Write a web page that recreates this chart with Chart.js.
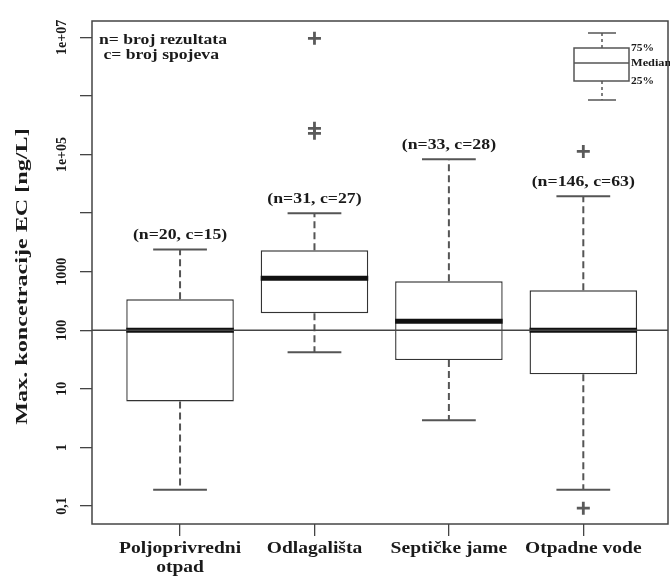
<!DOCTYPE html>
<html><head><meta charset="utf-8">
<script src="https://cdn.jsdelivr.net/npm/chart.js@4/dist/chart.umd.min.js"></script>
<style>html,body{margin:0;padding:0;background:#fff;overflow:hidden;}</style>
</head><body>
<canvas id="c" width="670" height="585"></canvas>
<script>
// ---- data ----
const categories = [['Poljoprivredni', 'otpad'], 'Odlagališta', 'Septičke jame', 'Otpadne vode'];
const positions = [1, 2, 3, 4];
const whiskerLow = [0.19, 42, 2.9, 0.19];
const q1 = [6.1, 195, 31, 17.7];
const median = [100, 770, 143, 100];
const q3 = [338, 2320, 686, 482];
const whiskerHigh = [2400, 9900, 83000, 19400];
const outlierX = [2, 2, 2, 4, 4];
const outlierY = [9.6e6, 2.8e5, 2.3e5, 1.13e5, 0.092];
const groupLabels = ['(n=20, c=15)', '(n=31, c=27)', '(n=33, c=28)', '(n=146, c=63)'];
const yTickValues = [0.1, 1, 10, 100, 1000, 1e4, 1e5, 1e6, 1e7];
const yTickLabels = ['0,1', '1', '10', '100', '1000', '', '1e+05', '', '1e+07'];
const refLine = 100;
const yTitle = 'Max. koncetracije EC [ng/L]';
const noteLines = ['n= broj rezultata', ' c= broj spojeva'];
const legendLabels = ['75%', 'Median', '25%'];

const SERIF = '"Liberation Serif", "DejaVu Serif", serif';
const TXT = '#1a1a1a';

function txt(ctx, s, x, y, size, sx, align, rot) {
  ctx.save();
  ctx.translate(x, y);
  if (rot) ctx.rotate(rot);
  ctx.scale(sx, 1);
  ctx.font = 'bold ' + size + 'px ' + SERIF;
  ctx.textAlign = align;
  ctx.fillText(s, 0, 0);
  ctx.restore();
}

const boxPlugin = {
  id: 'boxPlugin',
  beforeDatasetsDraw(chart) {
    const ctx = chart.ctx, xs = chart.scales.x, ys = chart.scales.y;
    const meta = chart.getDatasetMeta(0);
    ctx.save();
    ctx.strokeStyle = '#555';
    ctx.lineWidth = 2;
    ctx.setLineDash([7, 4]);
    positions.forEach((p, i) => {
      const x = xs.getPixelForValue(p);
      ctx.beginPath();
      ctx.moveTo(x, ys.getPixelForValue(q3[i]));
      ctx.lineTo(x, ys.getPixelForValue(whiskerHigh[i]));
      ctx.moveTo(x, ys.getPixelForValue(q1[i]));
      ctx.lineTo(x, ys.getPixelForValue(whiskerLow[i]));
      ctx.stroke();
    });
    ctx.setLineDash([]);
    positions.forEach((p, i) => {
      const x = xs.getPixelForValue(p);
      const w = meta.data[i].width / 4;
      [whiskerHigh[i], whiskerLow[i]].forEach(v => {
        const y = ys.getPixelForValue(v);
        ctx.beginPath();
        ctx.moveTo(x - w, y);
        ctx.lineTo(x + w, y);
        ctx.stroke();
      });
    });
    ctx.restore();
  },
  afterDatasetsDraw(chart) {
    const ctx = chart.ctx, xs = chart.scales.x, ys = chart.scales.y, ca = chart.chartArea;
    const meta = chart.getDatasetMeta(0);
    ctx.save();
    // medians
    ctx.strokeStyle = '#111';
    ctx.lineWidth = 5;
    positions.forEach((p, i) => {
      const el = meta.data[i];
      const y = ys.getPixelForValue(median[i]);
      ctx.beginPath();
      ctx.moveTo(el.x - el.width / 2, y);
      ctx.lineTo(el.x + el.width / 2, y);
      ctx.stroke();
    });
    // reference line
    ctx.strokeStyle = '#444';
    ctx.lineWidth = 1.3;
    const yr = ys.getPixelForValue(refLine);
    ctx.beginPath();
    ctx.moveTo(ca.left, yr);
    ctx.lineTo(ca.right, yr);
    ctx.stroke();
    // frame
    ctx.strokeStyle = '#444';
    ctx.lineWidth = 1.5;
    ctx.strokeRect(ca.left, ca.top, ca.right - ca.left, ca.bottom - ca.top);

    ctx.fillStyle = TXT;
    ctx.textBaseline = 'middle';
    // group labels
    positions.forEach((p, i) => {
      txt(ctx, groupLabels[i], xs.getPixelForValue(p), ys.getPixelForValue(whiskerHigh[i]) - 14, 14, 1.27, 'center');
    });
    // note text
    txt(ctx, noteLines[0], ca.left + 7, ca.top + 19, 14, 1.26, 'left');
    txt(ctx, noteLines[1], ca.left + 7, ca.top + 34, 14, 1.26, 'left');
    // x tick labels
    positions.forEach((p, i) => {
      const lines = Array.isArray(categories[i]) ? categories[i] : [categories[i]];
      lines.forEach((l, j) => txt(ctx, l, xs.getPixelForValue(p), ca.bottom + 25 + j * 19, 16, 1.22, 'center'));
    });
    // legend mini box
    const lx = ca.left + 510, lt = ca.top;
    ctx.strokeStyle = '#555';
    ctx.lineWidth = 1.5;
    ctx.beginPath();
    ctx.moveTo(lx - 14, lt + 12); ctx.lineTo(lx + 14, lt + 12);
    ctx.moveTo(lx - 14, lt + 79); ctx.lineTo(lx + 14, lt + 79);
    ctx.stroke();
    ctx.setLineDash([3, 3]);
    ctx.beginPath();
    ctx.moveTo(lx, lt + 12); ctx.lineTo(lx, lt + 27);
    ctx.moveTo(lx, lt + 60); ctx.lineTo(lx, lt + 79);
    ctx.stroke();
    ctx.setLineDash([]);
    ctx.strokeRect(lx - 28, lt + 27, 55, 33);
    ctx.beginPath();
    ctx.moveTo(lx - 28, lt + 42); ctx.lineTo(lx + 27, lt + 42);
    ctx.stroke();
    txt(ctx, legendLabels[0], lx + 29, lt + 27, 11, 1.05, 'left');
    txt(ctx, legendLabels[1], lx + 29, lt + 42, 11, 1.12, 'left');
    txt(ctx, legendLabels[2], lx + 29, lt + 60, 11, 1.05, 'left');
    // y tick labels
    ctx.textBaseline = 'alphabetic';
    yTickValues.forEach((v, i) => {
      if (!yTickLabels[i]) return;
      txt(ctx, yTickLabels[i], 66, ys.getPixelForValue(v), 14, 1, 'center', -Math.PI / 2);
    });
    // y title
    ctx.textBaseline = 'middle';
    txt(ctx, yTitle, 23, (ca.top + ca.bottom) / 2 + 4, 17, 1.42, 'center', -Math.PI / 2);
    ctx.restore();
  }
};

new Chart(document.getElementById('c'), {
  type: 'bar',
  data: {
    datasets: [{
      type: 'bar',
      data: positions.map((p, i) => ({ x: p, y: [q1[i], q3[i]] })),
      backgroundColor: '#ffffff',
      borderColor: '#333',
      borderWidth: 1.4,
      borderSkipped: false,
      barPercentage: 0.8,
      categoryPercentage: 1,
      order: 2
    }, {
      type: 'scatter',
      data: outlierX.map((x, i) => ({ x, y: outlierY[i] })),
      pointStyle: 'cross',
      pointRadius: 6.5,
      pointBorderWidth: 2.8,
      borderColor: '#5a5a5a',
      backgroundColor: '#5a5a5a',
      order: 1
    }]
  },
  plugins: [boxPlugin],
  options: {
    responsive: false,
    animation: false,
    devicePixelRatio: 1,
    layout: { autoPadding: false, padding: { top: 21, right: 2, left: 0, bottom: 0 } },
    plugins: { legend: { display: false }, tooltip: { enabled: false } },
    scales: {
      x: {
        type: 'linear',
        min: 0.345,
        max: 4.63,
        offset: false,
        afterBuildTicks: s => { s.ticks = positions.map(v => ({ value: v })); },
        afterFit: s => { s.height = 61; s.paddingLeft = 0; s.paddingRight = 0; },
        ticks: { display: false },
        grid: { offset: false, drawOnChartArea: false, drawTicks: true, tickLength: 12, color: '#444', lineWidth: 1.3 },
        border: { display: false }
      },
      y: {
        type: 'logarithmic',
        min: 0.0493,
        max: 1.9e7,
        afterBuildTicks: s => { s.ticks = yTickValues.map(v => ({ value: v })); },
        afterFit: s => { s.width = 92; s.paddingTop = 0; s.paddingBottom = 0; },
        ticks: { display: false },
        grid: { drawOnChartArea: false, drawTicks: true, tickLength: 12, color: '#444', lineWidth: 1.3 },
        border: { display: false }
      }
    }
  }
});
</script>
</body></html>
